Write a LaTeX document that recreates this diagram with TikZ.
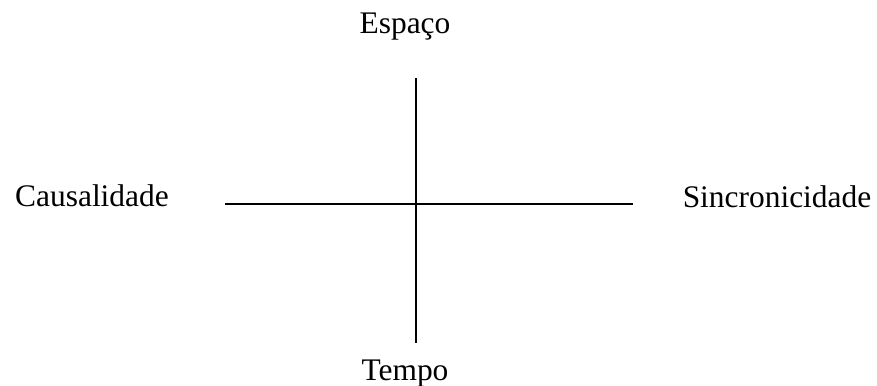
\documentclass[tikz,border=0pt]{standalone}
\usepackage{fontspec}
\setmainfont{Liberation Serif}
\usetikzlibrary{positioning}

\begin{document}
\begin{tikzpicture}[
    x=0.35pt, y=-0.35pt,
    axislabel/.style={anchor=base, inner sep=0pt, font=\fontsize{11}{13}\selectfont},
    axisline/.style={draw, line width=0.6pt, black}
]
\useasboundingbox (0,0) rectangle (877,385);

\coordinate (top)    at (416,78);
\coordinate (bottom) at (416,343);
\coordinate (left)   at (225,204);
\coordinate (right)  at (633,204);

\node [axislabel] (espaco)  at (405,33)  {Espaço};
\node [axislabel] (tempo)   at (405,380) {Tempo};
\node [axislabel] (causal)  at (92,206)  {Causalidade};
\node [axislabel] (sincron) at (777,207) {Sincronicidade};

\draw [axisline] (top)  -- (bottom);
\draw [axisline] (left) -- (right);
\end{tikzpicture}
\end{document}
